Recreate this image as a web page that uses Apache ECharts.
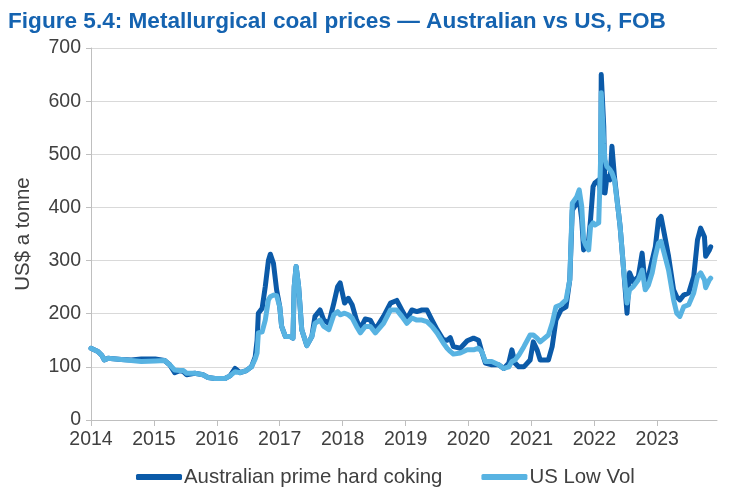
<!DOCTYPE html>
<html>
<head>
<meta charset="utf-8">
<script src="https://cdn.jsdelivr.net/npm/echarts@6/dist/echarts.min.js"></script>
<style>
html,body{margin:0;padding:0;background:#fff;}
#c{width:738px;height:497px;}
</style>
</head>
<body>
<div id="c"></div>
<script>
// Decimal-year positions shared by both series
const times = [
2014.00,2014.11,2014.17,2014.21,2014.27,2014.48,2014.64,2014.80,2015.02,2015.17,
2015.25,2015.33,2015.41,2015.47,2015.52,2015.65,2015.78,2015.86,2015.97,2016.13,
2016.21,2016.29,2016.37,2016.47,2016.55,2016.61,2016.64,2016.66,2016.72,2016.77,
2016.82,2016.85,2016.90,2016.95,2017.00,2017.03,2017.09,2017.17,2017.21,2017.23,
2017.26,2017.30,2017.35,2017.43,2017.51,2017.56,2017.64,2017.70,2017.78,2017.86,
2017.92,2017.96,2018.03,2018.09,2018.15,2018.22,2018.28,2018.36,2018.44,2018.52,
2018.65,2018.76,2018.86,2018.94,2019.02,2019.10,2019.18,2019.26,2019.34,2019.42,
2019.50,2019.60,2019.66,2019.71,2019.76,2019.87,2019.98,2020.08,2020.16,2020.21,
2020.27,2020.37,2020.48,2020.56,2020.64,2020.69,2020.74,2020.80,2020.88,2020.98,
2021.03,2021.09,2021.14,2021.27,2021.33,2021.39,2021.47,2021.55,2021.61,2021.65,
2021.72,2021.76,2021.80,2021.83,2021.86,2021.91,2021.94,2021.98,2022.01,2022.07,
2022.10,2022.11,2022.15,2022.17,2022.20,2022.25,2022.28,2022.32,2022.38,2022.41,
2022.47,2022.52,2022.56,2022.62,2022.70,2022.76,2022.81,2022.86,2022.92,2022.97,
2023.02,2023.06,2023.11,2023.18,2023.26,2023.31,2023.36,2023.42,2023.50,2023.58,
2023.64,2023.69,2023.75,2023.77,2023.83,2023.85
];
// Australian prime hard coking (US$ a tonne)
const aus = [
135,129,122,113,116,114,113,115,115,112,
104,89,93,91,85,88,85,80,78,78,
83,97,89,93,100,119,150,201,210,251,
300,312,295,245,213,176,157,157,154,251,
289,251,170,140,157,195,207,188,182,220,
251,258,220,229,217,188,172,190,188,170,
195,220,225,207,190,207,204,207,207,188,
170,151,150,155,138,135,149,154,150,129,
107,104,104,97,107,132,107,100,100,113,
147,132,113,113,138,188,207,213,264,395,
408,415,377,320,317,339,377,439,446,452,
427,650,552,427,458,452,515,458,395,364,
277,201,277,260,270,314,251,270,301,326,
377,383,352,308,245,232,226,235,239,270,
339,361,345,308,320,326
];
// US Low Vol (US$ a tonne)
const us = [
135,129,122,113,116,114,112,110,111,112,
104,94,93,93,88,88,85,80,78,78,
83,91,89,93,100,115,126,164,166,188,
226,232,235,234,213,176,157,157,154,251,
289,251,170,140,157,182,188,176,170,198,
204,198,201,198,192,176,164,176,176,164,
182,207,207,195,182,192,188,188,185,176,
164,145,135,129,124,126,132,132,135,129,
110,110,104,97,100,110,113,122,138,160,
160,154,147,160,182,213,217,226,264,408,
420,433,402,339,330,320,364,371,367,371,
490,616,521,490,477,471,465,452,395,364,
277,220,245,251,264,282,245,254,277,308,
333,336,314,282,226,201,195,213,217,239,
270,277,264,249,264,267
];
const yearTicks = [2014,2015,2016,2017,2018,2019,2020,2021,2022,2023];
const seriesNames = ['Australian prime hard coking','US Low Vol'];
const titleText = 'Figure 5.4: Metallurgical coal prices \u2014 Australian vs US, FOB';
const yName = 'US$ a tonne';

const FONT = '"Liberation Sans","Arial",sans-serif';
const chart = echarts.init(document.getElementById('c'), null, {renderer:'canvas'});
chart.setOption({
  animation:false,
  backgroundColor:'#ffffff',
  title:{
    text:titleText, left:3, top:5,
    textStyle:{fontFamily:FONT, fontWeight:'bold', fontSize:22.6, color:'#1563b0'}
  },
  grid:{left:91, right:21, top:48, bottom:77, containLabel:false, outerBoundsMode:'none'},
  legend:{
    bottom:5, left:131,
    icon:'roundRect', itemWidth:46, itemHeight:6, itemGap:39,
    textStyle:{fontFamily:FONT, fontSize:20.4, color:'#404040', padding:[0,0,0,-3]},
    data:seriesNames
  },
  xAxis:{
    type:'value', min:2014, max:2023.95,
    splitLine:{show:false},
    axisLine:{lineStyle:{color:'#bfbfbf', width:1}},
    axisTick:{show:true, length:6, customValues:yearTicks, lineStyle:{color:'#bfbfbf'}},
    axisLabel:{customValues:yearTicks, formatter:v=>String(v), margin:10,
      fontFamily:FONT, fontSize:19.5, color:'#404040'}
  },
  yAxis:{
    type:'value', min:0, max:700, interval:100,
    name:yName, nameLocation:'middle', nameGap:58, nameRotate:90,
    nameTextStyle:{fontFamily:FONT, fontSize:20.4, color:'#404040'},
    axisLine:{show:true, lineStyle:{color:'#bfbfbf', width:1}},
    axisTick:{show:true, length:5, lineStyle:{color:'#bfbfbf'}},
    splitLine:{lineStyle:{color:'#d9d9d9', width:1}},
    axisLabel:{fontFamily:FONT, fontSize:19.5, color:'#404040', margin:10}
  },
  series:[
    {name:seriesNames[0], type:'line', showSymbol:false, symbol:'none',
     data:times.map((t,i)=>[t,aus[i]]),
     color:'#0b5aa8',
     lineStyle:{width:5, color:'#0b5aa8', cap:'round', join:'round'}},
    {name:seriesNames[1], type:'line', showSymbol:false, symbol:'none',
     data:times.map((t,i)=>[t,us[i]]),
     color:'#58b3e2',
     lineStyle:{width:5, color:'#58b3e2', cap:'round', join:'round'}}
  ]
});
</script>
</body>
</html>
